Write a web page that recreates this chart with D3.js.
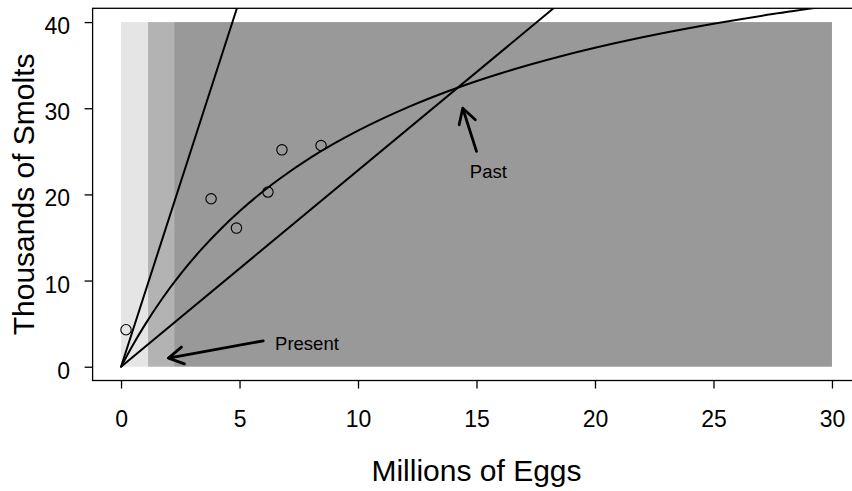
<!DOCTYPE html>
<html>
<head>
<meta charset="utf-8">
<script src="https://cdn.jsdelivr.net/npm/d3@7"></script>
<style>
  body { margin: 0; background: #fff; }
  text { font-family: "Liberation Sans", Arial, Helvetica, sans-serif; fill: #000; }
</style>
</head>
<body>
<div id="chart-area"></div>
<script>
// OBSERVED POINTS (MILLIONS OF EGGS, THOUSANDS OF SMOLTS)
var eggs   = [0.21, 3.80, 4.87, 6.20, 6.79, 8.44];
var smolts = [4.29, 19.49, 16.09, 20.27, 25.17, 25.67];

// STOCK-RECRUIT CURVE
var curveEggs   = [0, 0.5, 1, 1.72, 2.5, 3.38, 4.2, 5, 6, 6.71, 8, 9, 10, 12.19, 14.23, 16, 18.52, 21.9, 25, 27.5, 30];
var curveSmolts = [0, 2.52, 4.83, 7.83, 10.71, 13.59, 15.96, 18.04, 20.36, 21.84, 24.26, 25.91, 27.40, 30.22, 32.41, 34.03, 36.00, 38.17, 39.80, 40.93, 41.91];

// REPLACEMENT LINES THROUGH THE ORIGIN (END POINT AT TOP OF FRAME)
var lineNames  = ["present", "past"];
var lineEndX   = [4.89, 18.25];
var lineEndY   = [41.6, 41.6];

// SHADED BANDS
var bandStart  = [0, 1.14, 2.24];
var bandEnd    = [1.14, 2.24, 30];
var bandTop    = 40;
var bandColors = ["#e5e5e5", "#b3b3b3", "#999999"];

// ARROWS + LABELS
var arrowFrom  = [[6, 3], [15, 25]];
var arrowTo    = [[2, 1], [14.42, 30]];
var labelText  = ["Present", "Past"];
var labelAt    = [[6.5, 2.7], [15.5, 22.6]];
var labelAnchor = ["start", "middle"];

var xTicks = [0, 5, 10, 15, 20, 25, 30];
var yTicks = [0, 10, 20, 30, 40];

var width = 852, height = 491;

var svg = d3.select("#chart-area")
    .append("svg")
    .attr("width", width)
    .attr("height", height);

// X SCALE (R STYLE 4% PADDING)
var x = d3.scaleLinear()
    .domain([-1.2, 31.2])
    .range([92.6, 860.4]);

// Y SCALE
var y = d3.scaleLinear()
    .domain([-1.6, 41.6])
    .range([380.5, 8.3]);

svg.append("clipPath")
    .attr("id", "plot-clip")
    .append("rect")
    .attr("x", x(-1.2))
    .attr("y", y(41.6))
    .attr("width", x(31.2) - x(-1.2))
    .attr("height", y(-1.6) - y(41.6));

var plot = svg.append("g").attr("clip-path", "url(#plot-clip)");

// BANDS
plot.selectAll("rect.band")
    .data(bandStart)
    .enter()
    .append("rect")
    .attr("class", "band")
    .attr("x", function (d) { return x(d) })
    .attr("y", y(bandTop))
    .attr("width", function (d, i) { return x(bandEnd[i]) - x(d) })
    .attr("height", y(0) - y(bandTop))
    .attr("fill", function (d, i) { return bandColors[i] });

// STRAIGHT LINES
plot.selectAll("line.repl")
    .data(lineNames)
    .enter()
    .append("line")
    .attr("class", "repl")
    .attr("x1", x(0))
    .attr("y1", y(0))
    .attr("x2", function (d, i) { return x(lineEndX[i]) })
    .attr("y2", function (d, i) { return y(lineEndY[i]) })
    .attr("stroke", "#000")
    .attr("stroke-width", 2)
    .attr("stroke-linecap", "round");

// CURVE
var curvePts = curveEggs.map(function (d, i) { return [d, curveSmolts[i]] });
plot.append("path")
    .datum(curvePts)
    .attr("d", d3.line()
        .x(function (d) { return x(d[0]) })
        .y(function (d) { return y(d[1]) })
        .curve(d3.curveMonotoneX))
    .attr("fill", "none")
    .attr("stroke", "#000")
    .attr("stroke-width", 2);

// POINTS
plot.selectAll("circle")
    .data(eggs)
    .enter()
    .append("circle")
    .attr("cx", function (d) { return x(d) })
    .attr("cy", function (d, i) { return y(smolts[i]) })
    .attr("r", 5.2)
    .attr("fill", "none")
    .attr("stroke", "#000")
    .attr("stroke-width", 1.1);

// ARROWS (R arrows(): 30 deg head)
var headLen = 17, headAng = Math.PI / 6;
arrowFrom.forEach(function (f, i) {
    var x0 = x(f[0]), y0 = y(f[1]);
    var x1 = x(arrowTo[i][0]), y1 = y(arrowTo[i][1]);
    var a = Math.atan2(y1 - y0, x1 - x0);
    var p = "M" + x0 + "," + y0 + "L" + x1 + "," + y1 +
        "M" + (x1 - headLen * Math.cos(a - headAng)) + "," + (y1 - headLen * Math.sin(a - headAng)) +
        "L" + x1 + "," + y1 +
        "L" + (x1 - headLen * Math.cos(a + headAng)) + "," + (y1 - headLen * Math.sin(a + headAng));
    svg.append("path")
        .attr("d", p)
        .attr("fill", "none")
        .attr("stroke", "#000")
        .attr("stroke-width", 2.8)
        .attr("stroke-linecap", "round")
        .attr("stroke-linejoin", "round");
});

svg.selectAll("text.note")
    .data(labelText)
    .enter()
    .append("text")
    .attr("class", "note")
    .attr("x", function (d, i) { return x(labelAt[i][0]) })
    .attr("y", function (d, i) { return y(labelAt[i][1]) })
    .attr("dy", "0.35em")
    .attr("text-anchor", function (d, i) { return labelAnchor[i] })
    .attr("font-size", "18.5px")
    .text(function (d) { return d });

// BOX (right side falls outside the picture)
svg.append("rect")
    .attr("x", x(-1.2))
    .attr("y", y(41.6))
    .attr("width", x(31.2) - x(-1.2))
    .attr("height", y(-1.6) - y(41.6))
    .attr("fill", "none")
    .attr("stroke", "#000")
    .attr("stroke-width", 1.3);

// X AXIS
var xAxisGroup = svg.append("g")
    .attr("transform", "translate(0," + y(-1.6) + ")")
    .call(d3.axisBottom(x).tickValues(xTicks).tickSize(8).tickSizeOuter(0).tickPadding(22));
xAxisGroup.select(".domain").remove();
xAxisGroup.selectAll("line").attr("stroke-width", 1.3);
xAxisGroup.selectAll("text").attr("font-size", "23px").attr("font-family", null);

// Y AXIS
var yAxisGroup = svg.append("g")
    .attr("transform", "translate(" + x(-1.2) + ",0)")
    .call(d3.axisLeft(y).tickValues(yTicks).tickSize(8).tickSizeOuter(0).tickPadding(14.6));
yAxisGroup.select(".domain").remove();
yAxisGroup.selectAll("line").attr("stroke-width", 1.3);
yAxisGroup.selectAll("text").attr("font-size", "23px").attr("font-family", null).attr("dy", "0.5em");

// X LABEL
svg.append("text")
    .attr("x", (x(-1.2) + x(31.2)) / 2)
    .attr("y", 481)
    .attr("font-size", "30px")
    .attr("text-anchor", "middle")
    .text("Millions of Eggs");

// Y LABEL
svg.append("text")
    .attr("transform", "translate(34," + ((y(41.6) + y(-1.6)) / 2) + ") rotate(-90)")
    .attr("font-size", "30px")
    .attr("text-anchor", "middle")
    .text("Thousands of Smolts");
</script>
</body>
</html>
